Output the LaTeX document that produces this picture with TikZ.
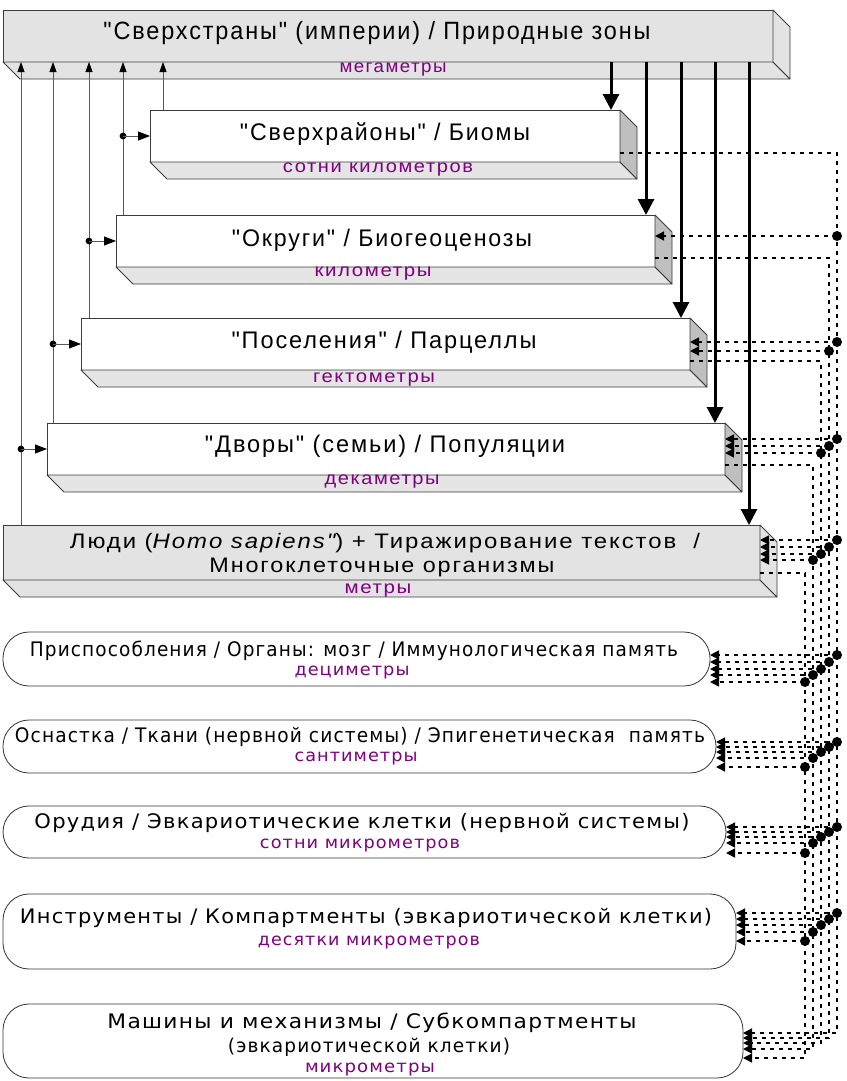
\documentclass[tikz,border=0pt]{standalone}
\usepackage{fontspec}
\usepackage{graphicx}
\setmainfont{Liberation Sans}
\newfontfamily\topf[LetterSpace=8]{Liberation Sans}
\newfontfamily\lowf[LetterSpace=6]{DejaVu Sans}
\usetikzlibrary{arrows.meta,calc}
\definecolor{subc}{RGB}{128,0,128}
\definecolor{edge}{RGB}{60,60,60}
\newcommand\tw[2]{\resizebox{#1pt}{\height}{#2}}
\newcommand\extr[3]{%
  \filldraw[side, fill=#3] (#1.south west) -- ++(17,17) -- ($(#1.south east)+(17,17)$) -- (#1.south east) -- cycle;
  \filldraw[side, fill=#2] (#1.north east) -- ++(17,17) -- ($(#1.south east)+(17,17)$) -- (#1.south east) -- cycle;}
\begin{document}
\begin{tikzpicture}[x=1pt,y=-1pt,
  front/.style={draw=edge, line width=0.8pt, inner sep=0pt, outer sep=0pt},
  side/.style={draw=edge, line width=0.8pt, line join=round},
  rbox/.style={front, draw=black!80, fill=white, rounded corners=26pt},
  thinl/.style={draw=black!65, line width=0.8pt},
  upar/.style={thinl, -{Triangle[length=10pt,width=7pt,color=black]}},
  sidear/.style={thinl, -{Triangle[length=12pt,width=9pt,color=black]}},
  bigar/.style={line width=3pt, -{Triangle[length=16pt,width=16pt]}},
  dotl/.style={line width=1.4pt, dash pattern=on 4pt off 5pt},
  dotar/.style={dotl, -{Triangle[length=9pt,width=9pt]}},
  tt/.style={inner sep=0pt, font=\topf\fontsize{24}{27}\selectfont},
  ts/.style={inner sep=0pt, text=subc, font=\topf\fontsize{18}{20}\selectfont},
  lt/.style={inner sep=0pt, font=\lowf\fontsize{20}{23}\selectfont},
  ls/.style={inner sep=0pt, text=subc, font=\lowf\fontsize{17}{19}\selectfont}
]
\useasboundingbox (0,0) rectangle (846,1081);
\fill[white] (0,0) rectangle (846,1081);

% ---- beveled boxes
\node[front, fill=gray!22, minimum width=770pt, minimum height=52pt] (b1) at (388,36) {};
\extr{b1}{gray!22}{gray!22}
\node[front, fill=white, minimum width=470pt, minimum height=52pt] (b2) at (385,136) {};
\extr{b2}{gray!50}{gray!20}
\node[front, fill=white, minimum width=539pt, minimum height=52pt] (b3) at (385.5,241) {};
\extr{b3}{gray!50}{gray!20}
\node[front, fill=white, minimum width=609pt, minimum height=52pt] (b4) at (385.5,344) {};
\extr{b4}{gray!50}{gray!20}
\node[front, fill=white, minimum width=678pt, minimum height=52pt] (b5) at (386,449) {};
\extr{b5}{gray!50}{gray!20}
\node[front, fill=gray!22, minimum width=757pt, minimum height=55pt] (b6) at (381.5,552.5) {};
\extr{b6}{gray!22}{gray!22}

% ---- rounded boxes
\node[rbox, minimum width=707pt, minimum height=54pt] (b7) at (356.5,659) {};
\node[rbox, minimum width=713pt, minimum height=53pt] (b8) at (359.5,746.5) {};
\node[rbox, minimum width=723pt, minimum height=52pt] (b9) at (364.5,832) {};
\node[rbox, minimum width=733pt, minimum height=75pt] (b10) at (369.5,931.5) {};
\node[rbox, minimum width=740pt, minimum height=74pt] (b11) at (373,1041) {};

% ---- texts
\node[tt, font=\topf\fontsize{25}{28}\selectfont] (t1) at (377,33) {\tw{547}{"Сверхстраны" (империи) / Природные зоны}};
\node[ts] (s1) at (393,70) {\tw{107}{мегаметры}};
\node[tt] (t2) at (385,134) {\tw{290}{"Сверхрайоны" / Биомы}};
\node[ts] (s2) at (378,170) {\tw{190}{сотни километров}};
\node[tt] (t3) at (382,240) {\tw{300}{"Округи" / Биогеоценозы}};
\node[ts] (s3) at (373,274) {\tw{117}{километры}};
\node[tt] (t4) at (384,342) {\tw{305}{"Поселения" / Парцеллы}};
\node[ts] (s4) at (374,380) {\tw{122}{гектометры}};
\node[tt] (t5) at (385,446) {\tw{360}{"Дворы" (семьи) / Популяции}};
\node[ts] (s5) at (382,482) {\tw{115}{декаметры}};
\node[tt, font=\topf\fontsize{21}{24}\selectfont] (t6a) at (385,543) {\tw{630}{Люди ({\itshape Homo sapiens"}) + Тиражирование текстов~~/}};
\node[tt, font=\topf\fontsize{21}{24}\selectfont] (t6b) at (382,567) {\tw{345}{Многоклеточные организмы}};
\node[ts] (s6) at (378,591) {\tw{67}{метры}};
\node[lt] (t7) at (354,651) {\tw{648}{Приспособления / Органы: мозг / Иммунологическая память}};
\node[ls] (s7) at (352,672) {\tw{115}{дециметры}};
\node[lt] (t8) at (360,737) {\tw{690}{Оснастка / Ткани (нервной системы) / Эпигенетическая~~память}};
\node[ls] (s8) at (356,758) {\tw{123}{сантиметры}};
\node[lt] (t9) at (362,823) {\tw{655}{Орудия / Эвкариотические клетки (нервной системы)}};
\node[ls] (s9) at (360,845) {\tw{200}{сотни микрометров}};
\node[lt] (t10) at (366,918) {\tw{692}{Инструменты / Компартменты (эвкариотической клетки)}};
\node[ls] (s10) at (369,942) {\tw{222}{десятки микрометров}};
\node[lt] (t11a) at (372,1023) {\tw{529}{Машины и механизмы / Субкомпартменты}};
\node[lt, font=\lowf\fontsize{19}{22}\selectfont] (t11b) at (369,1047) {\tw{282}{(эвкариотической клетки)}};
\node[ls] (s11) at (370,1069) {\tw{130}{микрометры}};

% ---- dotted buses
\coordinate (A) at (837,0);
\coordinate (B) at (829,0);
\coordinate (C) at (821,0);
\coordinate (D) at (813,0);
\coordinate (E) at (805,0);
\draw[dotar] (b2.east |- 0,153) -- (A |- 0,153) -- (A |- 0,1033) -- (b11.east |- 0,1033);
\draw[dotar] (b3.east |- 0,258) -- (B |- 0,258) -- (B |- 0,1038) -- (b11.east |- 0,1038);
\draw[dotar] (b4.east |- 0,361) -- (C |- 0,361) -- (C |- 0,1043) -- (b11.east |- 0,1043);
\draw[dotar] (b5.east |- 0,465) -- (D |- 0,465) -- (D |- 0,1049) -- (b11.east |- 0,1049);
\draw[dotar] (b6.east |- 0,573) -- (E |- 0,573) -- (E |- 0,1058) -- (b11.east |- 0,1058);
\foreach \bx/\yy/\bn in {A/236/b3, A/342/b4, B/351/b4, A/439/b5, B/446/b5, C/453/b5,
  A/540/b6, B/547/b6, C/554/b6, D/560/b6,
  A/655/b7, B/662/b7, C/669/b7, D/675/b7, E/682/b7,
  A/742/b8, B/747/b8, C/752/b8, D/758/b8, E/767/b8,
  A/827/b9, B/832/b9, C/837/b9, D/843/b9, E/853/b9,
  A/913/b10, B/919/b10, C/925/b10, D/932/b10, E/941/b10}{
  \draw[dotar] (\bx |- 0,\yy) -- (\bn.east |- 0,\yy);
  \fill (\bx |- 0,\yy) circle (5pt);
}

% ---- left thin connectors
\coordinate (L1) at (21,0);
\coordinate (L2) at (53,0);
\coordinate (L3) at (89,0);
\coordinate (L4) at (123,0);
\coordinate (L5) at (163,0);
\draw[upar] (L5 |- b2.north) -- (L5 |- b1.south);
\draw[upar] (L4 |- b3.north) -- (L4 |- b1.south);
\draw[upar] (L3 |- b4.north) -- (L3 |- b1.south);
\draw[upar] (L2 |- b5.north) -- (L2 |- b1.south);
\draw[upar] (L1 |- b6.north) -- (L1 |- b1.south);
\foreach \ll/\bn in {L4/b2, L3/b3, L2/b4, L1/b5}{
  \fill (\ll |- \bn.west) circle (3.4pt);
  \draw[sidear] (\ll |- \bn.west) -- (\bn.west);
}

% ---- bold arrows
\coordinate (R1) at (611,0);
\coordinate (R2) at (646,0);
\coordinate (R3) at (681,0);
\coordinate (R4) at (715,0);
\coordinate (R5) at (749,0);
\draw[bigar] (R1 |- b1.south) -- (R1 |- b2.north);
\draw[bigar] (R2 |- b1.south) -- (R2 |- b3.north);
\draw[bigar] (R3 |- b1.south) -- (R3 |- b4.north);
\draw[bigar] (R4 |- b1.south) -- (R4 |- b5.north);
\draw[bigar] (R5 |- b1.south) -- (R5 |- b6.north);
\end{tikzpicture}
\end{document}
